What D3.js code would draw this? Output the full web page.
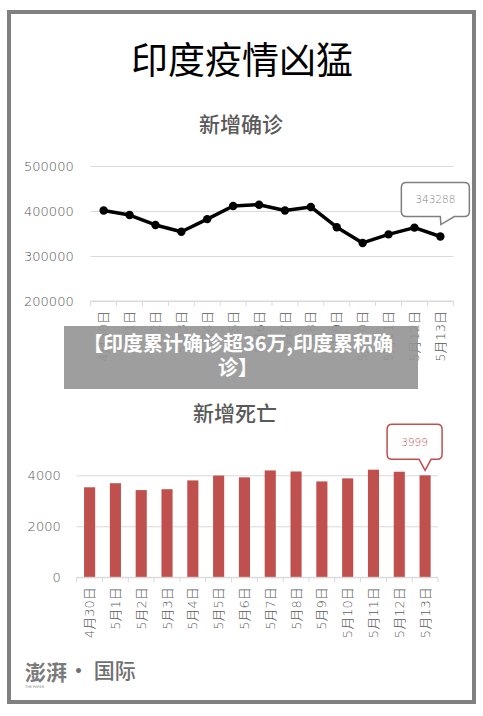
<!DOCTYPE html>
<html>
<head>
<meta charset="utf-8">
<script src="https://cdn.jsdelivr.net/npm/d3@7"></script>
<style>
  html, body { margin: 0; padding: 0; background: #fff; }
  svg { display: block; }
</style>
</head>
<body>
<div id="chart"></div>
<script>
// data
const dates = ["4月30日", "5月1日", "5月2日", "5月3日", "5月4日", "5月5日", "5月6日",
    "5月7日", "5月8日", "5月9日", "5月10日", "5月11日", "5月12日", "5月13日"]
const newCases = [401000, 391000, 369000, 354000, 382000, 411000, 414000,
    401000, 409000, 364000, 329000, 348000, 363000, 343288]
const newDeaths = [3530, 3690, 3420, 3455, 3800, 3990, 3920,
    4190, 4150, 3760, 3880, 4220, 4140, 3999]
const caseTicks = [200000, 300000, 400000, 500000]
const deathTicks = [0, 2000, 4000]

const width = 483, height = 716
const tickFont = "'DejaVu Sans', 'Noto Sans CJK SC', sans-serif"
const cjkFont = "'Noto Sans CJK SC', sans-serif"
const axisGrey = "#595959"
const gridGrey = "#d9d9d9"
const red = "#c0504d"

const svg = d3.select("#chart").append("svg")
    .attr("width", width)
    .attr("height", height)
    .attr("viewBox", [0, 0, width, height])

// frame
svg.append("rect")
    .attr("x", 9).attr("y", 12)
    .attr("width", 465).attr("height", 690)
    .attr("fill", "#fff")
    .attr("stroke", "#808080")
    .attr("stroke-width", 4)

svg.append("text")
    .attr("x", 242).attr("y", 74)
    .attr("text-anchor", "middle")
    .attr("font-family", cjkFont)
    .attr("font-size", 37)
    .attr("fill", "#000")
    .text("印度疫情凶猛")

// rounded callout box with a pointer on the bottom edge
function callout(g, box, ptr, color, label, fontSize) {
    const { x0, x1, y0, y1 } = box, r = 5
    const p = d3.path()
    p.moveTo(x0 + r, y0)
    p.lineTo(x1 - r, y0)
    p.quadraticCurveTo(x1, y0, x1, y0 + r)
    p.lineTo(x1, y1 - r)
    p.quadraticCurveTo(x1, y1, x1 - r, y1)
    p.lineTo(ptr.b1, y1)
    p.lineTo(ptr.tx, ptr.ty)
    p.lineTo(ptr.b0, y1)
    p.lineTo(x0 + r, y1)
    p.quadraticCurveTo(x0, y1, x0, y1 - r)
    p.lineTo(x0, y0 + r)
    p.quadraticCurveTo(x0, y0, x0 + r, y0)
    p.closePath()
    g.append("path")
        .attr("d", p.toString())
        .attr("fill", "#fff")
        .attr("stroke", color)
        .attr("stroke-width", 1.5)
    g.append("text")
        .attr("x", (x0 + x1) / 2)
        .attr("y", (y0 + y1) / 2)
        .attr("dy", "0.35em")
        .attr("text-anchor", "middle")
        .attr("font-family", tickFont)
        .attr("font-weight", 200)
        .attr("font-size", fontSize)
        .attr("fill", color)
        .text(label)
}

function styleYAxis(g) {
    g.select(".domain").remove()
    g.selectAll(".tick line").attr("stroke", gridGrey)
    g.selectAll(".tick text")
        .attr("fill", axisGrey)
        .attr("font-family", tickFont)
        .attr("font-weight", 200)
        .attr("font-size", 13)
}

function xAxis(g, x, y0) {
    const [r0, r1] = x.range()
    g.append("line")
        .attr("x1", r0).attr("x2", r1)
        .attr("y1", y0).attr("y2", y0)
        .attr("stroke", gridGrey)
    // ticks between the categories
    g.append("g").selectAll("line")
        .data(dates.map(d => x(d) - x.step() * x.paddingOuter()).concat([r1]))
        .join("line")
        .attr("x1", d => d).attr("x2", d => d)
        .attr("y1", y0).attr("y2", y0 + 5)
        .attr("stroke", gridGrey)
    const ax = g.append("g")
        .attr("transform", `translate(0,${y0})`)
        .call(d3.axisBottom(x).tickSize(0).tickPadding(0))
    ax.select(".domain").remove()
    ax.selectAll(".tick text")
        .attr("transform", "rotate(-90)")
        .attr("x", -10).attr("y", 0)
        .attr("dy", "0.35em")
        .attr("text-anchor", "end")
        .attr("fill", axisGrey)
        .attr("font-family", tickFont)
        .attr("font-weight", 200)
        .attr("font-size", 13)
}

// ---- new cases (line) ----
svg.append("text")
    .attr("x", 241).attr("y", 132)
    .attr("text-anchor", "middle")
    .attr("font-family", cjkFont)
    .attr("font-size", 21)
    .attr("font-weight", 500)
    .attr("fill", axisGrey)
    .text("新增确诊")

const xC = d3.scaleBand().domain(dates).range([90.7, 453.3])
const yC = d3.scaleLinear().domain([200000, 500000]).range([301, 166])

svg.append("g")
    .attr("transform", `translate(${xC.range()[0]},0)`)
    .call(d3.axisLeft(yC).tickValues(caseTicks).tickFormat(d3.format("d"))
        .tickSize(-(xC.range()[1] - xC.range()[0])).tickPadding(17))
    .call(styleYAxis)

svg.append("g").call(xAxis, xC, yC(200000))

const cx = d => xC(d) + xC.bandwidth() / 2
const line = d3.line()
    .x((d, i) => cx(dates[i]))
    .y(d => yC(d))

svg.append("path")
    .datum(newCases)
    .attr("fill", "none")
    .attr("stroke", "#000")
    .attr("stroke-width", 3.5)
    .attr("stroke-linejoin", "round")
    .attr("d", line)

svg.append("g").selectAll("circle")
    .data(newCases)
    .join("circle")
    .attr("cx", (d, i) => cx(dates[i]))
    .attr("cy", d => yC(d))
    .attr("r", 4.2)
    .attr("fill", "#000")

{
    const lx = cx(dates[dates.length - 1]), ly = yC(newCases[newCases.length - 1])
    callout(svg.append("g"),
        { x0: lx - 39, x1: lx + 29, y0: ly - 54, y1: ly - 20 },
        { b0: lx, b1: lx + 14, tx: lx + 0.5, ty: ly - 12 },
        "#7f7f7f", d3.format("d")(newCases[newCases.length - 1]), 10.5)
}

// ---- new deaths (bars) ----
svg.append("text")
    .attr("x", 235).attr("y", 421)
    .attr("text-anchor", "middle")
    .attr("font-family", cjkFont)
    .attr("font-size", 21)
    .attr("font-weight", 500)
    .attr("fill", axisGrey)
    .text("新增死亡")

const xD = d3.scaleBand().domain(dates).range([76.7, 438]).paddingInner(0.57).paddingOuter(0.285)
const yD = d3.scaleLinear().domain([0, 4000]).range([577.3, 475.3])

svg.append("g")
    .attr("transform", `translate(${xD.range()[0]},0)`)
    .call(d3.axisLeft(yD).tickValues(deathTicks).tickFormat(d3.format("d"))
        .tickSize(-(xD.range()[1] - xD.range()[0])).tickPadding(16))
    .call(styleYAxis)

svg.append("g").selectAll("rect")
    .data(newDeaths)
    .join("rect")
    .attr("x", (d, i) => xD(dates[i]))
    .attr("y", d => yD(d))
    .attr("width", xD.bandwidth())
    .attr("height", d => yD(0) - yD(d))
    .attr("fill", red)

svg.append("g").call(xAxis, xD, yD(0))

{
    const last = newDeaths[newDeaths.length - 1]
    const lx = xD(dates[dates.length - 1]) + xD.bandwidth() / 2, ly = yD(last)
    callout(svg.append("g"),
        { x0: lx - 38, x1: lx + 17, y0: ly - 51, y1: ly - 16 },
        { b0: lx - 6, b1: lx + 6, tx: lx, ty: ly - 5 },
        red, d3.format("d")(last), 10.5)
}

// ---- headline banner over the chart ----
svg.append("rect")
    .attr("x", 64).attr("y", 326)
    .attr("width", 354).attr("height", 63)
    .attr("fill", "#949494")
    .attr("fill-opacity", 0.9)

const banner = svg.append("text")
    .attr("text-anchor", "middle")
    .attr("font-family", cjkFont)
    .attr("font-size", 20)
    .attr("font-weight", 700)
    .attr("fill", "#fff")
banner.append("tspan").attr("x", 238).attr("y", 351).text("【印度累计确诊超36万,印度累积确")
banner.append("tspan").attr("x", 238).attr("y", 375).text("诊】")

// ---- logo ----
svg.append("text")
    .attr("x", 25).attr("y", 680)
    .attr("font-family", cjkFont)
    .attr("font-size", 21)
    .attr("font-weight", 700)
    .attr("fill", "#7a7a7a")
    .text("澎湃")
svg.append("text")
    .attr("x", 25).attr("y", 688)
    .attr("font-family", tickFont)
    .attr("font-size", 3.5)
    .attr("fill", "#7a7a7a")
    .text("THE  PAPER")
svg.append("text")
    .attr("x", 68).attr("y", 678)
    .attr("font-family", cjkFont)
    .attr("font-size", 21)
    .attr("font-weight", 500)
    .attr("fill", "#6f6f6f")
    .text("· 国际")
</script>
</body>
</html>
